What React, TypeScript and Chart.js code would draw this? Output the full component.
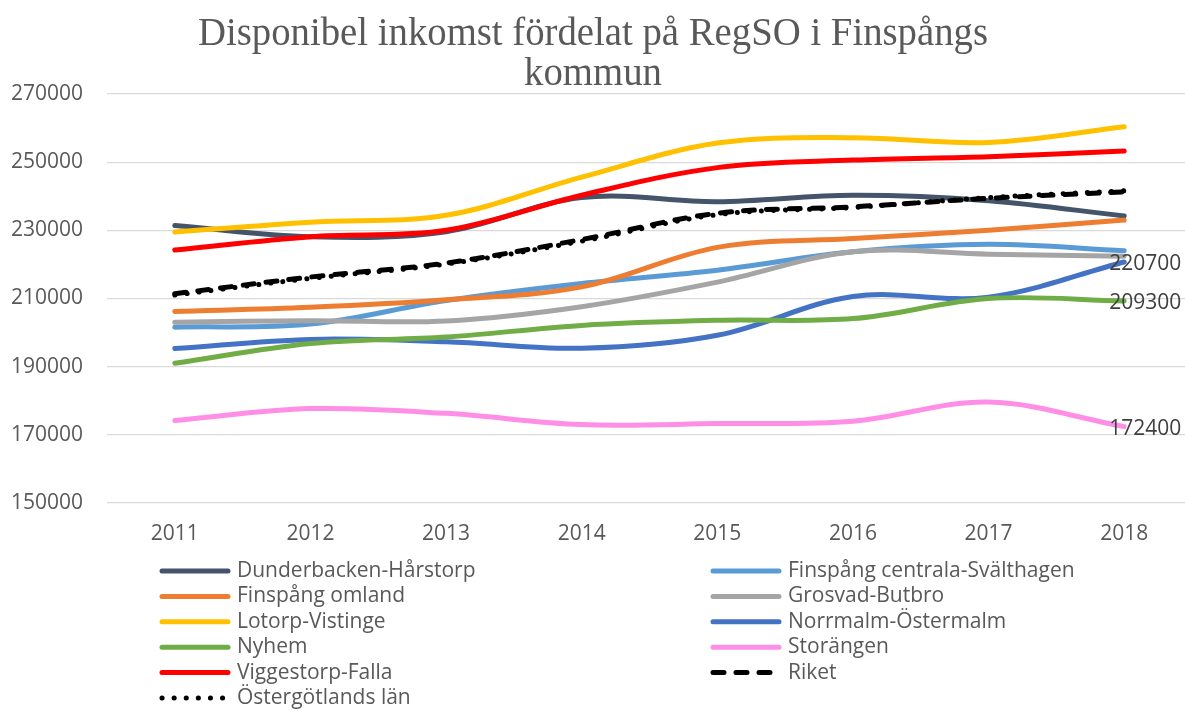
import React, { useEffect, useRef } from 'react';
import { Chart, registerables } from 'chart.js';

Chart.register(...registerables);

const FONT = '"Open Sans", sans-serif';
const TEXT = '#595959';
const FS = 21;

const titleLines = ['Disponibel inkomst fördelat på RegSO i Finspångs', 'kommun'];
const years = ['2011', '2012', '2013', '2014', '2015', '2016', '2017', '2018'];
const yTicks = { min: 150000, max: 270000, step: 20000 };

const dunderbacken = [231400, 228100, 229600, 239600, 238400, 240300, 238700, 234200];
const finspangCentrala = [201600, 202500, 209400, 214400, 218300, 223700, 225900, 224000];
const finspangOmland = [206200, 207400, 209600, 213400, 225000, 227600, 230000, 233000];
const grosvad = [203000, 203500, 203400, 207600, 214800, 223700, 223000, 222400];
const lotorp = [229500, 232400, 234400, 245600, 255600, 257200, 255800, 260400];
const norrmalm = [195300, 198000, 197300, 195400, 199200, 210600, 210400, 220700];
const nyhem = [191000, 196800, 198700, 202100, 203600, 204100, 210000, 209300];
const storangen = [174200, 177700, 176300, 173000, 173300, 174000, 179600, 172400];
const viggestorp = [224200, 228100, 230000, 240300, 248400, 250600, 251600, 253300];
const riket = [211400, 216300, 220400, 227300, 235000, 236900, 239400, 241300];
const ostergotland = [211000, 215900, 220100, 226800, 234600, 236700, 239600, 241600];

const endLabelSeries = ['Norrmalm-Östermalm', 'Nyhem', 'Storängen'];

export default function App() {
  const ref = useRef<HTMLCanvasElement>(null);

  useEffect(() => {
    if (!ref.current) return;
    const mk = (label: string, data: number[], color: string, extra: any = {}) => ({
      label,
      data,
      borderColor: color,
      backgroundColor: color,
      borderWidth: 5,
      pointRadius: 0,
      tension: 0.35,
      borderCapStyle: 'round',
      borderJoinStyle: 'round',
      fill: false,
      ...extra,
    });
    const datasets: any[] = [
      mk('Dunderbacken-Hårstorp', dunderbacken, '#44546A'),
      mk('Finspång centrala-Svälthagen', finspangCentrala, '#5B9BD5'),
      mk('Finspång omland', finspangOmland, '#ED7D31'),
      mk('Grosvad-Butbro', grosvad, '#A5A5A5'),
      mk('Lotorp-Vistinge', lotorp, '#FFC000'),
      mk('Norrmalm-Östermalm', norrmalm, '#4472C4'),
      mk('Nyhem', nyhem, '#70AD47'),
      mk('Storängen', storangen, '#FF8FE6'),
      mk('Viggestorp-Falla', viggestorp, '#FF0000'),
      mk('Riket', riket, '#000000', { borderDash: [11, 12] }),
      mk('Östergötlands län', ostergotland, '#000000', { borderDash: [0.1, 12], borderWidth: 5 }),
    ].map((d, i) => ({ ...d, order: -i }));

    const titlePlugin = {
      id: 'customTitle',
      afterDraw(chart: any) {
        const ctx = chart.ctx;
        ctx.save();
        ctx.font = '40px "Liberation Serif", serif';
        ctx.fillStyle = TEXT;
        ctx.textAlign = 'center';
        ctx.textBaseline = 'alphabetic';
        const w = ctx.measureText(titleLines[0]).width;
        const s = Math.min(1, 790 / w);
        ctx.translate(593, 0);
        ctx.scale(s, 1);
        ctx.fillText(titleLines[0], 0, 45);
        ctx.fillText(titleLines[1], 0, 85);
        ctx.restore();
      },
    };

    const endLabelPlugin = {
      id: 'endLabels',
      afterDatasetsDraw(chart: any) {
        const ctx = chart.ctx;
        ctx.save();
        ctx.font = `${FS}px ${FONT}`;
        ctx.fillStyle = '#404040';
        ctx.textAlign = 'left';
        ctx.textBaseline = 'middle';
        chart.data.datasets.forEach((ds: any, i: number) => {
          if (!endLabelSeries.includes(ds.label)) return;
          const meta = chart.getDatasetMeta(i);
          const last = meta.data.length - 1;
          const pt = meta.data[last];
          ctx.fillText(String(ds.data[last]), pt.x - 15, pt.y + 2);
        });
        ctx.restore();
      },
    };

    const legendPlugin = {
      id: 'customLegend',
      afterDraw(chart: any) {
        const ctx = chart.ctx;
        ctx.save();
        ctx.font = `${FS}px ${FONT}`;
        ctx.textAlign = 'left';
        ctx.textBaseline = 'middle';
        const colX = [159, 710];
        const lineLen = 72;
        chart.data.datasets.forEach((ds: any, i: number) => {
          const x = colX[i % 2];
          const y = 571 + Math.floor(i / 2) * 25.4;
          ctx.save();
          ctx.strokeStyle = ds.borderColor;
          ctx.lineWidth = ds.borderWidth;
          ctx.lineCap = 'round';
          ctx.setLineDash(ds.borderDash || []);
          ctx.beginPath();
          ctx.moveTo(x + 3, y);
          ctx.lineTo(x + lineLen - 3, y);
          ctx.stroke();
          ctx.restore();
          ctx.fillStyle = TEXT;
          ctx.fillText(ds.label, x + lineLen + 6, y);
        });
        ctx.restore();
      },
    };

    const chart = new Chart(ref.current, {
      type: 'line',
      data: { labels: years, datasets },
      plugins: [titlePlugin, endLabelPlugin, legendPlugin],
      options: {
        responsive: false,
        animation: false,
        layout: { padding: { top: 94, right: 8, bottom: 158, left: 0 } },
        plugins: {
          legend: { display: false },
          title: { display: false },
          tooltip: { enabled: false },
        },
        scales: {
          x: {
            offset: true,
            grid: { display: false, drawTicks: false },
            border: { display: false },
            ticks: { color: TEXT, font: { family: FONT, size: FS }, padding: 18 },
            afterFit: (s: any) => { s.height = 50; },
          },
          y: {
            min: yTicks.min,
            max: yTicks.max,
            ticks: {
              stepSize: yTicks.step,
              color: TEXT,
              font: { family: FONT, size: FS },
              padding: 24,
              callback: (v: any) => String(v),
            },
            grid: { color: '#D9D9D9', lineWidth: 1.3, drawTicks: false },
            border: { display: false },
            afterFit: (s: any) => { s.width = 107; },
          },
        },
      },
    } as any);
    return () => chart.destroy();
  }, []);

  return (
    <div style={{ position: 'absolute', left: 0, top: 0, width: 1185, height: 711, overflow: 'hidden', background: '#fff' }}>
      <canvas ref={ref} width={1200} height={711} style={{ width: 1200, height: 711, display: 'block' }} />
    </div>
  );
}
